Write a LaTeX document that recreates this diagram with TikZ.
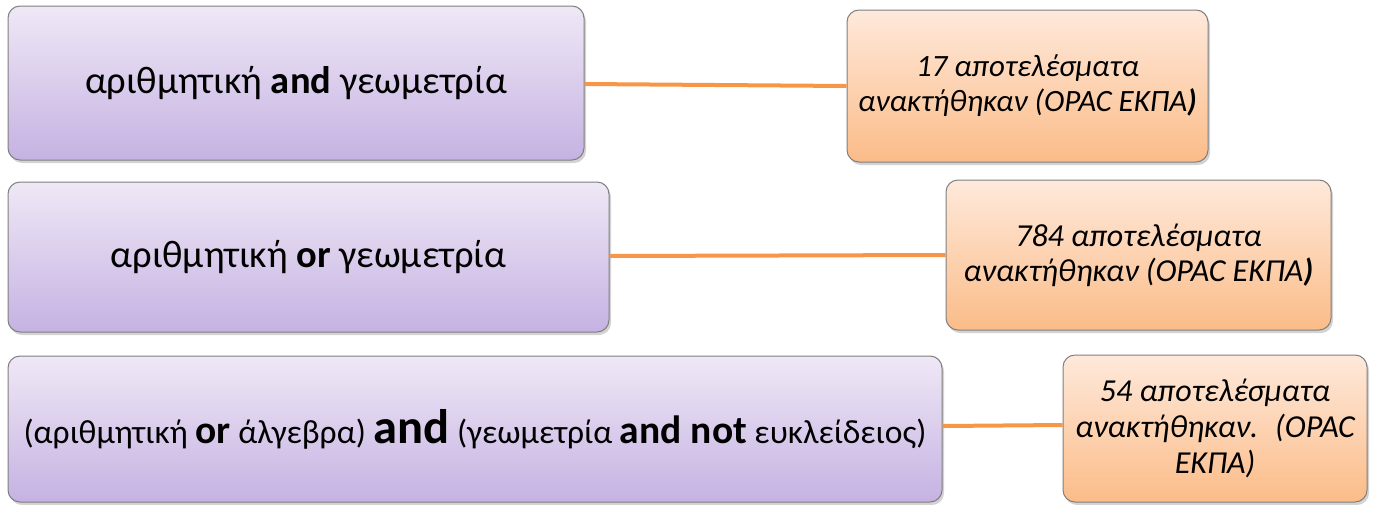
\documentclass[tikz,border=0pt]{standalone}
\usepackage{fontspec}
\setmainfont{Carlito}
\usetikzlibrary{shadows}
\definecolor{ptop}{HTML}{EFE8F6}
\definecolor{pbot}{HTML}{C5B2E2}
\definecolor{otop}{HTML}{FEE9DB}
\definecolor{obot}{HTML}{FBBC88}
\definecolor{edge}{HTML}{7F7F7F}
\definecolor{conn}{HTML}{F79646}
\tikzset{
  pbox/.style={draw=edge, line width=1pt, rounded corners=12pt, top color=ptop, bottom color=pbot,
    drop shadow={shadow xshift=2pt, shadow yshift=-3pt, opacity=0.35}, inner sep=0pt, align=center},
  obox/.style={draw=edge, line width=1pt, rounded corners=12pt, top color=otop, bottom color=obot,
    drop shadow={shadow xshift=2pt, shadow yshift=-3pt, opacity=0.35}, inner sep=0pt, align=center},
  link/.style={draw=conn, line width=4pt}
}
\begin{document}
\begin{tikzpicture}[x=1pt,y=-1pt]
\useasboundingbox (0,0) rectangle (1374,504);
% row 1
\node[pbox, minimum width=576pt, minimum height=154pt, font=\fontsize{38.5}{44}\selectfont] (q1) at (296,83) {αριθμητική \textbf{and} γεωμετρία};
\node[obox, minimum width=361pt, minimum height=152pt, font=\fontsize{31}{35}\selectfont\itshape] (r1) at (1027.5,86) {17 αποτελέσματα\\ανακτήθηκαν (OPAC ΕΚΠΑ\textbf{)}};
% row 2
\node[pbox, minimum width=601pt, minimum height=150pt, font=\fontsize{38.5}{44}\selectfont] (q2) at (308.5,257) {αριθμητική \textbf{or} γεωμετρία};
\node[obox, minimum width=385pt, minimum height=150pt, font=\fontsize{32}{35}\selectfont\itshape] (r2) at (1138.5,255) {784 αποτελέσματα\\ανακτήθηκαν (OPAC ΕΚΠΑ\textbf{)}};
% row 3
\node[pbox, minimum width=934pt, minimum height=146pt, font=\fontsize{33.5}{38}\selectfont] (q3) at (475,429) {(αριθμητική \textbf{\fontsize{39.5}{44}\selectfont or} άλγεβρα) \textbf{\fontsize{48.5}{54}\selectfont and} (γεωμετρία \textbf{\fontsize{39.5}{44}\selectfont and not} ευκλείδειος)};
\node[obox, minimum width=304pt, minimum height=147pt, font=\fontsize{32}{36}\selectfont\itshape] (r3) at (1215,428.5) {54 αποτελέσματα\\ανακτήθηκαν.~ (OPAC\\ΕΚΠΑ)};
% connectors
\draw[link] ([yshift=-1pt]q1.east) -- ([yshift=0pt]r1.west);
\draw[link] ([yshift=1pt]q2.east) -- ([yshift=0pt]r2.west);
\draw[link] ([yshift=3pt]q3.east) -- ([yshift=3.5pt]r3.west);
\end{tikzpicture}
\end{document}
